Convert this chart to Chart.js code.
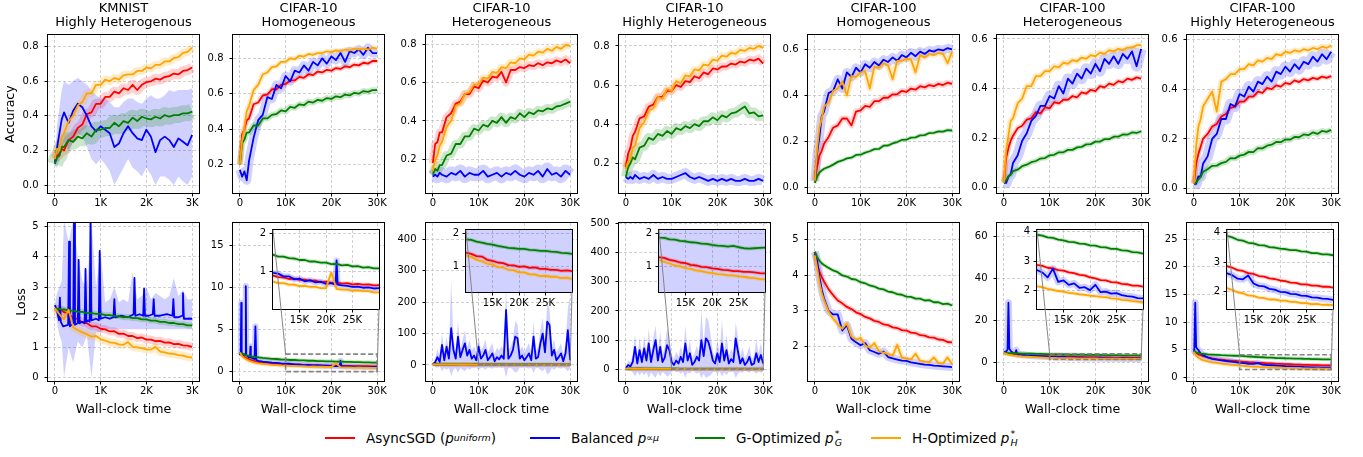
<!DOCTYPE html>
<html>
<head>
<meta charset="utf-8">
<script src="https://cdn.jsdelivr.net/npm/chart.js@4.4.1/dist/chart.umd.min.js"></script>
<style>
  body { margin: 0; width: 1363px; height: 457px; position: relative; overflow: hidden; background: #fff; font-family: 'DejaVu Sans', sans-serif; }
  canvas { position: absolute; }
  .it { position: absolute; top: 428px; height: 20px; display: flex; align-items: center; font-size: 13.5px; white-space: nowrap; color: #000; }
  .ln { display: inline-block; width: 30px; height: 2px; margin-right: 11px; }
  .it sup { font-size: 9.5px; line-height: 0; vertical-align: 6px; }
  .ss { display: inline-flex; flex-direction: column; font-size: 9.5px; line-height: 9px; vertical-align: -5px; margin-left: 1px; }
</style>
</head>
<body>
<div class="it" style="left:325px"><span class="ln" style="background:#ff0000"></span>AsyncSGD (<i>p</i><sup><i>uniform</i></sup>)</div>
<div class="it" style="left:530px"><span class="ln" style="background:#0000ff"></span>Balanced&nbsp;<i>p</i><sup>∝<i>μ</i></sup></div>
<div class="it" style="left:695px"><span class="ln" style="background:#008000"></span>G-Optimized&nbsp;<i>p</i><span class="ss"><span>*</span><i>G</i></span></div>
<div class="it" style="left:871px"><span class="ln" style="background:#ffa500"></span>H-Optimized&nbsp;<i>p</i><span class="ss"><span>*</span><i>H</i></span></div>
<script>
// ---- x positions (K units) ----
const kX = [0,0.05,0.1,0.15,0.2,0.3,0.4,0.5,0.6,0.7,0.8,0.9,1,1.1,1.2,1.3,1.4,1.5,1.6,1.7,1.8,1.9,2,2.1,2.2,2.3,2.4,2.5,2.6,2.7,2.8,2.9,3];
const cX = [0,0.5,1,1.5,2,3,4,5,6,7,8,9,10,11,12,13,14,15,16,17,18,19,20,21,22,23,24,25,26,27,28,29,30];
const spikeX = [0,0.5,1,1.5,2,2.5,3,3.5,4,4.5,5,5.5,6,6.5,7,7.5,8,8.5,9,9.5,10,10.5,11,11.5,12,12.5,13,13.5,14,14.5,15,15.5,16,16.5,17,17.5,18,18.5,19,19.5,20,20.5,21,21.5,22,22.5,23,23.5,24,24.5,25,25.5,26,26.5,27,27.5,28,28.5,29,29.5,30];

// ---- titles / ticks ----
const titles = [['KMNIST','Highly Heterogenous'],['CIFAR-10','Homogeneous'],['CIFAR-10','Heterogeneous'],['CIFAR-10','Highly Heterogeneous'],
  ['CIFAR-100','Homogeneous'],['CIFAR-100','Heterogeneous'],['CIFAR-100','Highly Heterogeneous']];
const kTicks = [0,1,2,3], cTicks = [0,10,20,30], insetXTicks = [15,20,25];
const accTicksA = [0,0.2,0.4,0.6,0.8], accTicksB = [0.2,0.4,0.6,0.8], accTicksC = [0,0.2,0.4,0.6];
const lossTicks1 = [0,1,2,3,4,5], lossTicks2 = [0,5,10,15], lossTicks3 = [0,100,200,300,400], lossTicks4 = [0,100,200,300,400,500];
const lossTicks5 = [2,3,4,5], lossTicks6 = [0,20,40,60], lossTicks7 = [0,5,10,15,20,25];
const insetTicksA = [1,2], insetTicksB = [2,3,4];

// ---- accuracy: KMNIST ----
const a1Orange = [0.15,0.21,0.2,0.28,0.3,0.37,0.4,0.46,0.48,0.53,0.53,0.58,0.58,0.61,0.6,0.62,0.61,0.635,0.64,0.64,0.66,0.66,0.68,0.675,0.695,0.695,0.715,0.715,0.735,0.74,0.765,0.77,0.795];
const a1Red = [0.15,0.17,0.18,0.21,0.2,0.26,0.28,0.33,0.35,0.41,0.42,0.47,0.47,0.51,0.51,0.54,0.53,0.56,0.55,0.58,0.55,0.58,0.595,0.6,0.615,0.61,0.625,0.63,0.645,0.64,0.66,0.665,0.68];
const a1Green = [0.12,0.16,0.17,0.22,0.22,0.26,0.25,0.28,0.27,0.3,0.28,0.32,0.32,0.33,0.33,0.36,0.34,0.37,0.36,0.39,0.37,0.395,0.385,0.38,0.395,0.385,0.405,0.395,0.405,0.405,0.415,0.415,0.425];
const a1Blue = [0.13,0.22,0.3,0.38,0.42,0.36,0.43,0.47,0.45,0.4,0.34,0.31,0.34,0.32,0.3,0.22,0.24,0.3,0.34,0.3,0.27,0.26,0.32,0.28,0.19,0.26,0.28,0.26,0.22,0.27,0.25,0.23,0.29];
const a1BlueHi = [0.15,0.35,0.45,0.55,0.6,0.58,0.6,0.62,0.6,0.58,0.55,0.52,0.5,0.5,0.48,0.45,0.45,0.48,0.5,0.5,0.48,0.47,0.5,0.52,0.5,0.5,0.52,0.55,0.54,0.55,0.55,0.55,0.56];
const a1BlueLo = [0.11,0.1,0.15,0.2,0.25,0.2,0.25,0.3,0.28,0.22,0.15,0.12,0.15,0.12,0.08,0,0.05,0.1,0.15,0.1,0.08,0.05,0.1,0.06,0,0.05,0.05,0.03,0,0.05,0.02,0,0.05];
// ---- accuracy: CIFAR-10 ----
const a2Orange = [0.2,0.34,0.41,0.5,0.53,0.62,0.65,0.71,0.72,0.75,0.755,0.78,0.78,0.8,0.795,0.815,0.81,0.825,0.82,0.83,0.83,0.84,0.835,0.845,0.84,0.85,0.845,0.855,0.85,0.855,0.85,0.86,0.855];
const a2Red = [0.2,0.37,0.4,0.45,0.46,0.54,0.55,0.59,0.595,0.625,0.625,0.65,0.655,0.675,0.675,0.695,0.69,0.71,0.705,0.725,0.72,0.735,0.73,0.745,0.74,0.755,0.75,0.765,0.76,0.775,0.77,0.785,0.785];
const a2Blue = [0.17,0.13,0.16,0.11,0.22,0.35,0.45,0.48,0.58,0.57,0.65,0.63,0.7,0.67,0.73,0.72,0.76,0.73,0.78,0.76,0.8,0.77,0.81,0.79,0.83,0.78,0.84,0.83,0.85,0.82,0.86,0.83,0.83];
const a2Green = [0.2,0.32,0.34,0.38,0.38,0.42,0.42,0.46,0.46,0.48,0.485,0.505,0.5,0.525,0.52,0.54,0.535,0.555,0.55,0.565,0.56,0.575,0.57,0.585,0.58,0.595,0.59,0.605,0.6,0.615,0.61,0.62,0.62];
const a3Orange = [0.14,0.2,0.22,0.27,0.29,0.37,0.4,0.48,0.49,0.54,0.55,0.59,0.59,0.625,0.62,0.655,0.65,0.68,0.675,0.705,0.7,0.725,0.72,0.745,0.74,0.76,0.755,0.775,0.765,0.785,0.775,0.795,0.79];
const a3Red = [0.18,0.28,0.29,0.34,0.34,0.42,0.44,0.49,0.5,0.54,0.54,0.58,0.57,0.61,0.6,0.63,0.625,0.655,0.6,0.665,0.665,0.68,0.675,0.69,0.685,0.7,0.69,0.705,0.7,0.715,0.705,0.72,0.7];
const a3Green = [0.12,0.15,0.14,0.17,0.17,0.22,0.23,0.28,0.28,0.32,0.32,0.36,0.35,0.38,0.37,0.4,0.39,0.42,0.39,0.42,0.41,0.44,0.42,0.445,0.435,0.455,0.45,0.465,0.46,0.475,0.48,0.49,0.5];
const a3Blue = [0.11,0.12,0.11,0.13,0.12,0.11,0.13,0.12,0.14,0.11,0.13,0.12,0.12,0.14,0.11,0.12,0.13,0.11,0.13,0.12,0.14,0.12,0.11,0.13,0.12,0.14,0.11,0.15,0.12,0.13,0.11,0.14,0.12];
const a4Red = [0.18,0.25,0.28,0.34,0.36,0.43,0.44,0.49,0.5,0.54,0.54,0.57,0.57,0.6,0.59,0.62,0.615,0.645,0.635,0.665,0.655,0.685,0.68,0.695,0.695,0.71,0.705,0.72,0.715,0.73,0.725,0.735,0.71];
const a4Orange = [0.17,0.21,0.22,0.28,0.29,0.38,0.41,0.47,0.48,0.54,0.53,0.58,0.57,0.62,0.61,0.65,0.645,0.68,0.675,0.705,0.7,0.73,0.725,0.75,0.745,0.765,0.76,0.78,0.775,0.79,0.785,0.8,0.79];
const a4Green = [0.13,0.18,0.2,0.23,0.22,0.28,0.29,0.33,0.32,0.35,0.34,0.365,0.35,0.38,0.37,0.39,0.38,0.4,0.39,0.415,0.415,0.435,0.42,0.445,0.435,0.455,0.46,0.475,0.49,0.455,0.46,0.44,0.445];
const a4Blue = [0.13,0.12,0.13,0.12,0.14,0.12,0.13,0.12,0.14,0.12,0.13,0.12,0.12,0.13,0.14,0.15,0.13,0.12,0.13,0.12,0.11,0.12,0.11,0.12,0.11,0.12,0.11,0.11,0.12,0.11,0.11,0.12,0.11];
// ---- accuracy: CIFAR-100 ----
const a5Blue = [0.03,0.15,0.22,0.31,0.33,0.41,0.42,0.47,0.43,0.5,0.48,0.52,0.5,0.535,0.52,0.545,0.53,0.555,0.545,0.565,0.55,0.575,0.565,0.585,0.57,0.59,0.58,0.595,0.59,0.6,0.595,0.605,0.6];
const a5Orange = [0.03,0.17,0.26,0.3,0.35,0.37,0.42,0.43,0.46,0.4,0.485,0.48,0.5,0.505,0.43,0.525,0.52,0.54,0.53,0.47,0.55,0.55,0.56,0.555,0.5,0.575,0.565,0.58,0.575,0.585,0.58,0.54,0.59];
const a5Red = [0.03,0.09,0.14,0.16,0.19,0.22,0.26,0.27,0.3,0.3,0.27,0.33,0.335,0.355,0.35,0.375,0.375,0.39,0.39,0.405,0.405,0.42,0.415,0.43,0.425,0.44,0.435,0.445,0.44,0.45,0.445,0.455,0.45];
const a5Green = [0.02,0.05,0.065,0.075,0.082,0.09,0.1,0.112,0.118,0.127,0.13,0.142,0.143,0.152,0.158,0.167,0.168,0.182,0.183,0.192,0.198,0.207,0.208,0.217,0.218,0.227,0.228,0.237,0.238,0.244,0.243,0.25,0.248];
const a6Orange = [0.02,0.15,0.21,0.27,0.28,0.34,0.36,0.41,0.41,0.45,0.45,0.47,0.47,0.49,0.485,0.505,0.5,0.515,0.51,0.525,0.52,0.535,0.53,0.545,0.54,0.555,0.55,0.56,0.555,0.565,0.565,0.575,0.575];
const a6Blue = [0.02,0.02,0.045,0.055,0.1,0.13,0.19,0.22,0.27,0.29,0.33,0.33,0.37,0.36,0.41,0.38,0.44,0.42,0.46,0.44,0.48,0.46,0.5,0.47,0.52,0.5,0.53,0.5,0.54,0.52,0.55,0.49,0.56];
const a6Red = [0.02,0.12,0.16,0.19,0.21,0.24,0.25,0.275,0.28,0.305,0.3,0.325,0.32,0.345,0.34,0.355,0.355,0.37,0.365,0.385,0.38,0.395,0.39,0.41,0.405,0.42,0.415,0.43,0.425,0.44,0.435,0.445,0.44];
const a6Green = [0.02,0.03,0.047,0.053,0.067,0.073,0.087,0.093,0.103,0.108,0.118,0.12,0.131,0.133,0.143,0.143,0.153,0.153,0.163,0.165,0.175,0.176,0.186,0.186,0.196,0.196,0.206,0.206,0.215,0.214,0.223,0.221,0.228];
const a7Orange = [0.02,0.17,0.25,0.28,0.33,0.36,0.39,0.31,0.43,0.44,0.46,0.46,0.48,0.48,0.5,0.495,0.515,0.51,0.525,0.52,0.54,0.535,0.55,0.545,0.555,0.55,0.56,0.555,0.565,0.56,0.57,0.565,0.575];
const a7Blue = [0.02,0.02,0.05,0.05,0.1,0.13,0.2,0.22,0.28,0.28,0.34,0.33,0.38,0.37,0.41,0.39,0.43,0.42,0.45,0.43,0.47,0.46,0.49,0.47,0.5,0.48,0.51,0.5,0.53,0.51,0.54,0.52,0.55];
const a7Red = [0.02,0.1,0.14,0.17,0.2,0.22,0.25,0.26,0.29,0.3,0.325,0.33,0.35,0.35,0.37,0.37,0.39,0.385,0.405,0.4,0.415,0.41,0.425,0.42,0.435,0.428,0.44,0.435,0.445,0.44,0.45,0.445,0.452];
const a7Green = [0.02,0.025,0.037,0.048,0.068,0.078,0.092,0.093,0.103,0.108,0.123,0.122,0.133,0.137,0.148,0.147,0.163,0.162,0.173,0.177,0.188,0.187,0.198,0.197,0.208,0.207,0.218,0.215,0.226,0.22,0.232,0.228,0.236];

// ---- loss: KMNIST ----
const l1Orange = [2.3,2.2,2.1,2.0,1.93,2.25,1.67,1.58,1.5,1.44,1.36,1.38,1.27,1.23,1.17,1.15,1.1,1.09,1.18,1.02,1.0,0.98,0.94,0.93,1.02,0.86,0.84,0.8,0.79,0.75,0.73,0.69,0.66];
const l1Red = [2.3,2.28,2.24,2.23,2.17,2.12,1.98,1.94,1.83,1.8,1.7,1.7,1.62,1.6,1.53,1.54,1.45,1.46,1.38,1.38,1.31,1.33,1.26,1.26,1.21,1.22,1.16,1.17,1.11,1.12,1.07,1.06,1.02];
const l1Green = [2.3,2.28,2.28,2.25,2.26,2.22,2.22,2.18,2.18,2.14,2.14,2.11,2.11,2.07,2.07,2.04,2.04,2.0,2.01,1.97,1.97,1.93,1.93,1.89,1.89,1.85,1.85,1.81,1.81,1.77,1.77,1.73,1.73];
const l1BlueX = [0,0.05,0.09,0.11,0.13,0.18,0.29,0.31,0.33,0.4,0.42,0.44,0.5,0.52,0.54,0.6,0.65,0.67,0.69,0.74,0.76,0.78,0.8,0.9,0.96,0.98,1.0,1.1,1.2,1.28,1.3,1.32,1.45,1.6,1.72,1.74,1.76,1.85,1.93,1.95,1.97,2.05,2.14,2.16,2.18,2.3,2.45,2.57,2.59,2.61,2.7,2.78,2.8,2.82,2.9,3.0];
const l1Blue = [2.4,2.2,1.9,2.65,1.85,1.7,1.75,4.5,1.7,1.8,5.4,1.75,1.8,3.9,1.8,1.85,1.8,3.6,1.85,1.9,1.85,5.4,1.9,1.95,1.9,4.2,1.95,2.0,1.95,2.0,2.6,2.0,2.05,2.0,2.1,3.3,2.05,2.1,2.05,2.95,2.05,2.05,2.1,2.6,2.05,2.05,2.1,2.05,2.6,2.0,2.0,2.05,2.8,1.95,1.95,1.95];
const l1BlueHi = [2.45,2.8,3.0,3.2,5.2,4.5,5.2,4.0,3.2,3.0,5.2,3.0,4.2,2.5,2.6,3.0,2.5,2.6,2.5,3.5,2.6,2.7,3.0,2.6,2.8,2.7,2.6,2.7,3.3,2.7,2.9,2.6,2.6];
const l1BlueLo = [2.35,1.8,1.4,1.2,0,1.0,0.5,1.2,1.0,1.4,0,1.5,1.5,1.6,1.6,1.6,1.6,1.6,1.6,1.6,1.6,1.6,1.6,1.6,1.6,1.6,1.6,1.6,1.6,1.6,1.6,1.6,1.6];
// ---- loss: CIFAR-10 ----
const l2Orange = [2.3,1.85,1.6,1.45,1.3,1.12,1.0,0.93,0.88,0.82,0.8,0.75,0.74,0.7,0.7,0.66,0.66,0.62,0.63,0.6,0.6,0.57,0.57,0.98,0.55,0.53,0.53,0.5,0.51,0.49,0.49,0.46,0.46];
const l2Red = [2.3,2.0,1.75,1.6,1.48,1.3,1.18,1.1,1.05,0.98,0.96,0.91,0.9,0.86,0.85,0.81,0.82,0.79,0.79,0.76,0.77,0.73,0.74,0.71,0.72,0.69,0.7,0.67,0.68,0.66,0.67,0.64,0.65];
const l2Green = [2.3,2.15,2.05,1.95,1.88,1.77,1.7,1.64,1.6,1.54,1.52,1.46,1.45,1.4,1.4,1.36,1.35,1.31,1.31,1.27,1.27,1.24,1.24,1.2,1.21,1.17,1.18,1.14,1.15,1.11,1.12,1.09,1.09];
const l2BlueX = [0,0.2,0.3,0.4,0.9,1.2,1.3,1.4,2,2.2,2.3,2.4,3.2,3.4,3.6,4,5,6,7,8,9,10,11,12,13,14,15,16,17,18,19,20,21,21.8,22,22.2,23,24,25,26,27,28,29,30];
const l2Blue = [2.0,2.3,8.2,2.2,2.0,2.1,10.2,2.0,1.7,1.8,3.0,1.7,1.5,5.4,1.4,1.3,1.2,1.15,1.08,1.05,1.0,0.97,0.95,0.88,0.88,0.8,0.82,0.75,0.78,0.72,0.74,0.68,0.7,0.66,1.3,0.66,0.64,0.63,0.6,0.61,0.58,0.59,0.56,0.57];
const l3Orange = [2.3,2.2,2.1,2.0,1.95,1.85,1.75,1.67,1.6,1.53,1.46,1.4,1.33,1.29,1.2,1.16,1.08,1.06,0.98,0.97,0.9,0.89,0.82,0.82,0.76,0.76,0.71,0.72,0.69,0.69,0.65,0.66,0.62];
const l3Red = [2.3,2.25,2.2,2.15,2.1,2.0,1.9,1.8,1.72,1.64,1.56,1.49,1.42,1.38,1.31,1.3,1.2,1.17,1.12,1.1,1.04,1.03,0.99,1.0,0.96,0.97,0.93,0.93,0.9,0.9,0.87,0.88,0.86];
const l3Green = [2.3,2.28,2.25,2.22,2.2,2.15,2.1,2.05,2.0,1.96,1.92,1.87,1.82,1.8,1.75,1.72,1.68,1.66,1.62,1.59,1.56,1.55,1.53,1.53,1.5,1.49,1.47,1.47,1.45,1.44,1.41,1.4,1.38];
const l3Blue = [3,8,25,10,64,15,58,20,117,48,20,90,25,48,69,30,48,20,30,15,58,20,30,48,15,25,37,12,25,18,30,20,175,20,30,48,90,85,20,30,15,25,37,15,90,20,25,69,100,40,138,127,30,48,15,25,37,12,37,111,15];
const l3BlueHi = [5,20,50,30,100,40,90,45,270,80,45,140,50,80,110,55,80,45,60,40,90,45,60,80,40,55,70,35,55,45,60,45,250,45,60,80,140,130,45,60,40,55,70,40,140,45,55,110,150,70,200,180,60,80,40,55,70,35,70,180,220];
const l3BlueLo = [1,-5,-10,-5,-20,-10,-15,-10,-35,-15,-10,-25,-10,-15,-20,-10,-15,-10,-10,-8,-15,-10,-10,-15,-8,-10,-12,-8,-10,-8,-10,-8,-40,-10,-10,-15,-25,-20,-8,-10,-8,-10,-12,-8,-25,-10,-10,-15,-20,-10,-30,-25,-10,-15,-8,-10,-12,-8,-12,-20,-10];
const l4Orange = [2.3,2.2,2.1,2.0,1.95,1.85,1.72,1.62,1.52,1.44,1.36,1.28,1.2,1.14,1.09,1.03,1.0,0.95,0.93,0.88,0.86,0.82,0.8,0.77,0.76,0.73,0.73,0.7,0.69,0.66,0.65,0.62,0.61];
const l4Red = [2.3,2.25,2.2,2.12,2.05,1.92,1.8,1.68,1.58,1.5,1.42,1.35,1.28,1.26,1.2,1.17,1.12,1.1,1.05,1.03,0.99,0.98,0.94,0.93,0.9,0.89,0.86,0.86,0.84,0.84,0.82,0.8,0.79];
const l4Green = [2.3,2.28,2.25,2.22,2.2,2.15,2.1,2.06,2.02,1.98,1.95,1.91,1.87,1.86,1.82,1.81,1.77,1.76,1.73,1.72,1.69,1.68,1.65,1.63,1.62,1.6,1.62,1.58,1.55,1.54,1.55,1.56,1.57];
const l4Blue = [5,15,10,25,77,20,66,25,72,30,89,25,66,100,30,77,25,40,83,66,25,15,30,20,43,25,89,30,55,15,25,43,30,100,45,106,95,66,30,20,55,25,89,30,66,20,35,25,106,60,20,38,15,25,43,15,20,55,25,49,20];
const l4BlueHi = [8,30,25,50,120,45,110,50,115,60,140,50,110,150,60,130,50,80,140,110,50,35,60,45,80,50,150,60,100,40,55,80,60,205,90,180,170,120,60,45,100,55,170,60,120,45,70,55,160,110,45,75,35,55,80,35,45,100,55,90,45];
const l4BlueLo = [2,-5,-5,-10,-25,-8,-20,-10,-20,-10,-30,-10,-20,-30,-10,-25,-8,-15,-25,-20,-8,-5,-10,-8,-15,-8,-30,-10,-15,-5,-8,-15,-10,-30,-15,-30,-25,-20,-10,-8,-15,-8,-25,-10,-20,-8,-10,-8,-30,-15,-8,-12,-5,-8,-12,-5,-8,-15,-8,-12,-8];
// ---- loss: CIFAR-100 ----
const l5Green = [4.65,4.5,4.4,4.33,4.28,4.2,4.13,4.08,3.99,3.96,3.89,3.87,3.8,3.77,3.71,3.68,3.62,3.6,3.54,3.52,3.47,3.45,3.4,3.39,3.34,3.34,3.29,3.3,3.24,3.24,3.19,3.2,3.15];
const l5Red = [4.6,4.3,4.1,3.95,3.82,3.6,3.44,3.29,3.21,3.11,3.05,2.96,2.91,2.83,2.79,2.72,2.69,2.62,2.6,2.54,2.52,2.46,2.45,2.39,2.38,2.32,2.31,2.26,2.25,2.2,2.19,2.13,2.12];
const l5Blue = [4.65,4.4,3.95,3.6,3.35,3.0,2.9,2.9,2.45,2.6,2.22,2.12,2.04,2.1,1.9,1.85,1.8,1.86,1.71,1.67,1.64,1.61,1.6,1.56,1.54,1.52,1.5,1.49,1.47,1.46,1.45,1.44,1.43];
const l5Orange = [4.55,4.2,3.8,3.5,3.3,2.98,2.78,2.63,2.5,2.65,2.28,2.19,2.25,2.03,1.97,2.1,1.87,1.83,1.79,1.75,2.05,1.69,1.67,1.64,1.8,1.6,1.58,1.57,1.7,1.54,1.53,1.7,1.51];
const l6Green = [4.7,4.55,4.45,4.4,4.35,4.27,4.2,4.15,4.1,4.05,4.0,3.95,3.9,3.87,3.81,3.79,3.73,3.71,3.66,3.65,3.6,3.59,3.54,3.53,3.48,3.47,3.42,3.42,3.37,3.36,3.31,3.3,3.26];
const l6Red = [4.7,4.3,4.05,3.85,3.7,3.5,3.35,3.25,3.15,3.07,3.0,2.94,2.88,2.84,2.78,2.76,2.7,2.68,2.62,2.6,2.54,2.52,2.45,2.42,2.36,2.35,2.29,2.28,2.23,2.22,2.17,2.17,2.14];
const l6BlueX = [0,0.5,0.8,1,1.2,1.5,2,2.5,2.7,2.9,3,4,5,6,7,8,9,10,11,12,13,14,15,16,17,18,19,20,21,22,23,24,25,26,27,28,29,30];
const l6Blue = [4.8,5.2,6.0,28.5,6.5,5.5,4.5,4.2,5.8,4.1,3.9,3.6,3.35,3.2,3.05,2.95,2.85,2.7,2.62,2.45,2.75,2.3,2.35,2.2,2.25,2.1,2.12,2.02,2.2,1.95,1.97,1.9,1.92,1.85,1.82,1.8,1.75,1.74];
const l6Orange = [4.5,4.0,3.7,3.5,3.35,3.1,2.9,2.75,2.62,2.5,2.4,2.3,2.15,2.12,2.06,2.03,1.99,1.97,1.93,1.91,1.88,1.86,1.83,1.82,1.79,1.78,1.74,1.73,1.69,1.68,1.65,1.63,1.6];
const l7Green = [4.8,4.5,4.4,4.3,4.25,4.15,4.1,4.05,4.0,3.97,3.93,3.9,3.88,3.83,3.75,3.72,3.65,3.63,3.57,3.56,3.5,3.49,3.45,3.44,3.4,3.4,3.36,3.35,3.3,3.3,3.26,3.26,3.23];
const l7Red = [4.7,4.35,4.15,4.0,3.85,3.6,3.42,3.3,3.2,3.1,3.02,2.95,2.86,2.81,2.73,2.7,2.63,2.6,2.53,2.51,2.45,2.43,2.38,2.36,2.31,2.3,2.25,2.25,2.21,2.21,2.17,2.17,2.14];
const l7BlueX = [0,0.1,0.3,0.5,0.7,1,1.5,2,3,4,5,6,7,8,9,10,11,12,13,14,15,16,17,18,19,20,21,22,23,24,25,26,27,28,29,30];
const l7Blue = [5.0,4.8,13.5,5.5,5.2,4.9,4.3,4.0,3.6,3.35,3.2,3.05,2.95,2.85,2.75,2.62,2.56,2.44,2.42,2.55,2.28,2.2,2.18,2.1,2.07,2.0,1.99,1.93,1.92,1.87,1.86,1.81,1.8,1.77,1.76,1.73];
const l7Orange = [4.6,3.9,3.55,3.3,3.12,2.9,2.72,2.6,2.48,2.38,2.28,2.2,2.12,2.06,1.98,1.95,1.88,1.86,1.8,1.79,1.74,1.74,1.7,1.7,1.66,1.66,1.62,1.62,1.58,1.59,1.56,1.57,1.55];

// ---- look ----
Chart.defaults.font.family = "'DejaVu Sans', sans-serif";
Chart.defaults.color = '#000';
const COL = { red: '#ff0000', blue: '#0000ff', green: '#008000', orange: '#ffa500' };
const BAND = { red: 'rgba(255,0,0,0.18)', blue: 'rgba(0,0,255,0.18)', green: 'rgba(0,128,0,0.2)', orange: 'rgba(255,165,0,0.22)' };
const LEFT = [48, 233, 426, 619, 808, 997, 1187];
const AW = 151, AH = 158, YW = 46, CW = 211;

const pts = (xs, ys) => ys.map((v, i) => ({ x: xs[i], y: v }));

function datasets(lines) {
  const main = [], bands = [];
  lines.forEach(l => {
    main.push({ data: pts(l.x, l.y), borderColor: COL[l.c], borderWidth: 1.8, pointRadius: 0, fill: false, borderJoinStyle: 'round' });
    if (l.hi) {
      const bx = l.bx || l.x;
      bands.push({ data: pts(bx, l.hi), borderColor: 'rgba(0,0,0,0)', borderWidth: 0, pointRadius: 0, fill: '+1', backgroundColor: BAND[l.c] });
      bands.push({ data: pts(bx, l.lo), borderColor: 'rgba(0,0,0,0)', borderWidth: 0, pointRadius: 0, fill: false });
    } else {
      bands.push({ data: pts(l.x, l.y), borderColor: BAND[l.c], borderWidth: l.bw || 5, pointRadius: 0, fill: false, borderJoinStyle: 'round' });
    }
  });
  return main.concat(bands);
}

const GRID = { color: 'rgba(176,176,176,0.75)', lineWidth: 0.8, tickLength: 3.5, tickColor: '#000', tickWidth: 1, tickBorderDash: [] };
const BORDER = { display: false, dash: [3, 2] };

function frame(ctx, a) {
  ctx.save();
  ctx.strokeStyle = '#000'; ctx.lineWidth = 1;
  ctx.strokeRect(Math.round(a.left) - 0.5, Math.round(a.top) - 0.5, Math.round(a.width) + 1, Math.round(a.height) + 1);
  ctx.restore();
}

function makeChart(canvas, o) {
  return new Chart(canvas, {
    type: 'line',
    data: { datasets: o.datasets },
    options: {
      responsive: false, animation: false, events: [],
      layout: { padding: o.pad },
      plugins: {
        legend: { display: false }, tooltip: { enabled: false },
        title: o.title ? { display: true, text: o.title, fullSize: false, color: '#000', font: { size: 13, weight: 'normal', lineHeight: 1.05 }, padding: { top: 2, bottom: 5.7 } } : { display: false }
      },
      scales: {
        x: {
          type: 'linear', min: o.xMin, max: o.xMax, bounds: 'data',
          afterBuildTicks: s => { s.ticks = o.xTicks.map(v => ({ value: v })); },
          afterFit: s => { s.height = o.xH; },
          ticks: { callback: v => v === 0 ? '0' : v + 'K', font: { size: 10 }, color: '#000', padding: o.xPad, maxRotation: 0, autoSkip: false },
          grid: GRID, border: BORDER,
          title: o.xTitle ? { display: true, text: o.xTitle, color: '#000', font: { size: 12.6 }, padding: { top: 0, bottom: 0 } } : { display: false }
        },
        y: {
          type: 'linear', min: o.yMin, max: o.yMax, bounds: 'data',
          afterBuildTicks: s => { s.ticks = o.yTicks.map(v => ({ value: v })); },
          afterFit: s => { s.width = o.yW; },
          ticks: { callback: v => v.toFixed(o.dec), font: { size: 10 }, color: '#000', padding: o.yPad, autoSkip: false },
          grid: GRID, border: BORDER,
          title: o.yTitle ? { display: true, text: o.yTitle, color: '#000', font: { size: 12.6 }, padding: { top: o.yTitlePad, bottom: 0 } } : { display: false }
        }
      }
    },
    plugins: [o.plugin]
  });
}

function addCanvas(left, top, w, h) {
  const c = document.createElement('canvas');
  c.width = w; c.height = h;
  c.style.left = left + 'px'; c.style.top = top + 'px';
  c.style.width = w + 'px'; c.style.height = h + 'px';
  document.body.appendChild(c);
  return c;
}

// ---- panels ----
const accPanels = [
  { x: 'k', yMin: -0.046, yMax: 0.868, yTicks: accTicksA, lines: [
    { c: 'orange', x: kX, y: a1Orange, bw: 8 }, { c: 'green', x: kX, y: a1Green, bw: 16 },
    { c: 'blue', x: kX, y: a1Blue, hi: a1BlueHi, lo: a1BlueLo }, { c: 'red', x: kX, y: a1Red, bw: 10 }] },
  { yMin: 0.038, yMax: 0.932, yTicks: accTicksB, lines: [
    { c: 'orange', x: cX, y: a2Orange }, { c: 'green', x: cX, y: a2Green, bw: 6 },
    { c: 'blue', x: cX, y: a2Blue, bw: 9 }, { c: 'red', x: cX, y: a2Red }] },
  { yMin: 0.025, yMax: 0.847, yTicks: accTicksB, lines: [
    { c: 'orange', x: cX, y: a3Orange, bw: 7 }, { c: 'green', x: cX, y: a3Green, bw: 9 },
    { c: 'blue', x: cX, y: a3Blue, bw: 13 }, { c: 'red', x: cX, y: a3Red, bw: 8 }] },
  { yMin: 0.048, yMax: 0.856, yTicks: accTicksB, lines: [
    { c: 'orange', x: cX, y: a4Orange, bw: 7 }, { c: 'green', x: cX, y: a4Green, bw: 10 },
    { c: 'blue', x: cX, y: a4Blue, bw: 10 }, { c: 'red', x: cX, y: a4Red, bw: 8 }] },
  { yMin: -0.023, yMax: 0.662, yTicks: accTicksC, lines: [
    { c: 'orange', x: cX, y: a5Orange, bw: 6 }, { c: 'green', x: cX, y: a5Green, bw: 4 },
    { c: 'blue', x: cX, y: a5Blue, bw: 9 }, { c: 'red', x: cX, y: a5Red, bw: 6 }] },
  { yMin: -0.021, yMax: 0.616, yTicks: accTicksC, lines: [
    { c: 'orange', x: cX, y: a6Orange, bw: 6 }, { c: 'green', x: cX, y: a6Green, bw: 5 },
    { c: 'blue', x: cX, y: a6Blue, bw: 11 }, { c: 'red', x: cX, y: a6Red, bw: 5 }] },
  { yMin: -0.017, yMax: 0.617, yTicks: accTicksC, lines: [
    { c: 'orange', x: cX, y: a7Orange, bw: 6 }, { c: 'green', x: cX, y: a7Green, bw: 6 },
    { c: 'blue', x: cX, y: a7Blue, bw: 11 }, { c: 'red', x: cX, y: a7Red, bw: 5 }] }
];

const lossPanels = [
  { x: 'k', yMin: -0.11, yMax: 5.12, yTicks: lossTicks1, lines: [
    { c: 'orange', x: kX, y: l1Orange, bw: 8 }, { c: 'green', x: kX, y: l1Green, bw: 6 },
    { c: 'blue', x: l1BlueX, y: l1Blue, bx: kX, hi: l1BlueHi, lo: l1BlueLo }, { c: 'red', x: kX, y: l1Red, bw: 8 }] },
  { yMin: -1.1, yMax: 17.7, yTicks: lossTicks2, inset: { yMin: 0.02, yMax: 2.1, ticks: insetTicksA, h: 79 }, lines: [
    { c: 'orange', x: cX, y: l2Orange, bw: 4 }, { c: 'green', x: cX, y: l2Green, bw: 4 },
    { c: 'blue', x: l2BlueX, y: l2Blue, bw: 6 }, { c: 'red', x: cX, y: l2Red, bw: 4 }] },
  { yMin: -51, yMax: 452, yTicks: lossTicks3, inset: { yMin: 0.23, yMax: 2.1, ticks: insetTicksA, h: 62 }, lines: [
    { c: 'orange', x: cX, y: l3Orange, bw: 4 }, { c: 'green', x: cX, y: l3Green, bw: 4 },
    { c: 'blue', x: spikeX, y: l3Blue, hi: l3BlueHi, lo: l3BlueLo }, { c: 'red', x: cX, y: l3Red, bw: 4 }] },
  { yMin: -40, yMax: 501, yTicks: lossTicks4, inset: { yMin: 0.23, yMax: 2.1, ticks: insetTicksA, h: 62 }, lines: [
    { c: 'orange', x: cX, y: l4Orange, bw: 4 }, { c: 'green', x: cX, y: l4Green, bw: 4 },
    { c: 'blue', x: spikeX, y: l4Blue, hi: l4BlueHi, lo: l4BlueLo }, { c: 'red', x: cX, y: l4Red, bw: 4 }] },
  { yMin: 1.04, yMax: 5.455, yTicks: lossTicks5, lines: [
    { c: 'orange', x: cX, y: l5Orange, bw: 5 }, { c: 'green', x: cX, y: l5Green, bw: 4 },
    { c: 'blue', x: cX, y: l5Blue, bw: 8 }, { c: 'red', x: cX, y: l5Red, bw: 5 }] },
  { yMin: -8.9, yMax: 66.5, yTicks: lossTicks6, inset: { yMin: 1.38, yMax: 4.06, ticks: insetTicksB, h: 79 }, lines: [
    { c: 'orange', x: cX, y: l6Orange, bw: 4 }, { c: 'green', x: cX, y: l6Green, bw: 4 },
    { c: 'blue', x: l6BlueX, y: l6Blue, bw: 7 }, { c: 'red', x: cX, y: l6Red, bw: 4 }] },
  { yMin: -0.67, yMax: 27.95, yTicks: lossTicks7, inset: { yMin: 1.42, yMax: 4.08, ticks: insetTicksB, h: 79 }, lines: [
    { c: 'orange', x: cX, y: l7Orange, bw: 4 }, { c: 'green', x: cX, y: l7Green, bw: 4 },
    { c: 'blue', x: l7BlueX, y: l7Blue, bw: 7 }, { c: 'red', x: cX, y: l7Red, bw: 4 }] }
];

function mainPlugin(zoom) {
  return {
    id: 'axesFrame',
    afterDatasetsDraw(chart) {
      const { ctx, scales } = chart;
      if (zoom) {
        const x0 = scales.x.getPixelForValue(10), x1 = scales.x.getPixelForValue(30);
        const y0 = scales.y.getPixelForValue(zoom.yMax), y1 = scales.y.getPixelForValue(zoom.yMin);
        ctx.save();
        ctx.strokeStyle = 'rgba(128,128,128,0.95)'; ctx.lineWidth = 1.6; ctx.setLineDash([5, 2.5]);
        ctx.strokeRect(x0, y0, x1 - x0, y1 - y0);
        ctx.restore();
      }
      frame(ctx, chart.chartArea);
    }
  };
}

function insetPlugin(main, zoom) {
  return {
    id: 'insetFrame',
    beforeDraw(chart) {
      const { ctx, chartArea: a } = chart;
      ctx.save(); ctx.fillStyle = '#fff'; ctx.fillRect(a.left, a.top, a.width, a.height); ctx.restore();
    },
    afterDatasetsDraw(chart) { frame(chart.ctx, chart.chartArea); },
    afterDraw(chart) {
      const { ctx, chartArea: a } = chart;
      const mx = main.scales.x, my = main.scales.y;
      ctx.save();
      ctx.strokeStyle = 'rgba(128,128,128,0.95)'; ctx.lineWidth = 1;
      ctx.beginPath();
      ctx.moveTo(a.left, a.top); ctx.lineTo(mx.getPixelForValue(10), my.getPixelForValue(zoom.yMax));
      ctx.moveTo(a.right, a.bottom); ctx.lineTo(mx.getPixelForValue(30), my.getPixelForValue(zoom.yMin));
      ctx.stroke();
      ctx.restore();
    }
  };
}

function build(p, col, row) {
  const k = p.x === 'k';
  const top = row === 0 ? 0 : 205;
  const h = row === 0 ? 213 : 212;
  const cLeft = LEFT[col] - YW;
  const canvas = addCanvas(cLeft, top, CW, h);
  const main = makeChart(canvas, {
    datasets: datasets(p.lines),
    pad: { left: 0, right: CW - YW - AW, top: row === 0 ? 0 : 18, bottom: 0 },
    title: row === 0 ? titles[col] : null,
    xMin: k ? -0.15 : -1.5, xMax: k ? 3.15 : 31.5, xTicks: k ? kTicks : cTicks,
    xH: row === 0 ? 20 : 36, xPad: 0.5, xTitle: row === 1 ? 'Wall-clock time' : null,
    yMin: p.yMin, yMax: p.yMax, yTicks: p.yTicks, dec: row === 0 ? 1 : 0, yW: YW, yPad: 6,
    yTitle: col === 0 ? (row === 0 ? 'Accuracy' : 'Loss') : null, yTitlePad: row === 0 ? 0.7 : 11.7,
    plugin: mainPlugin(p.inset)
  });
  if (p.inset) {
    const z = p.inset;
    const ic = addCanvas(cLeft, top, CW, h);
    const insTop = 223 + 7 - top;
    makeChart(ic, {
      datasets: datasets(p.lines),
      pad: { left: YW + 40 - 20, right: CW - YW - 146, top: insTop, bottom: h - insTop - z.h - 16 },
      title: null,
      xMin: 10, xMax: 30, xTicks: insetXTicks, xH: 16, xPad: 2,
      yMin: z.yMin, yMax: z.yMax, yTicks: z.ticks, dec: 0, yW: 20, yPad: 3.5,
      plugin: insetPlugin(main, z)
    });
  }
}

accPanels.forEach((p, i) => build(p, i, 0));
lossPanels.forEach((p, i) => build(p, i, 1));
</script>
</body>
</html>
